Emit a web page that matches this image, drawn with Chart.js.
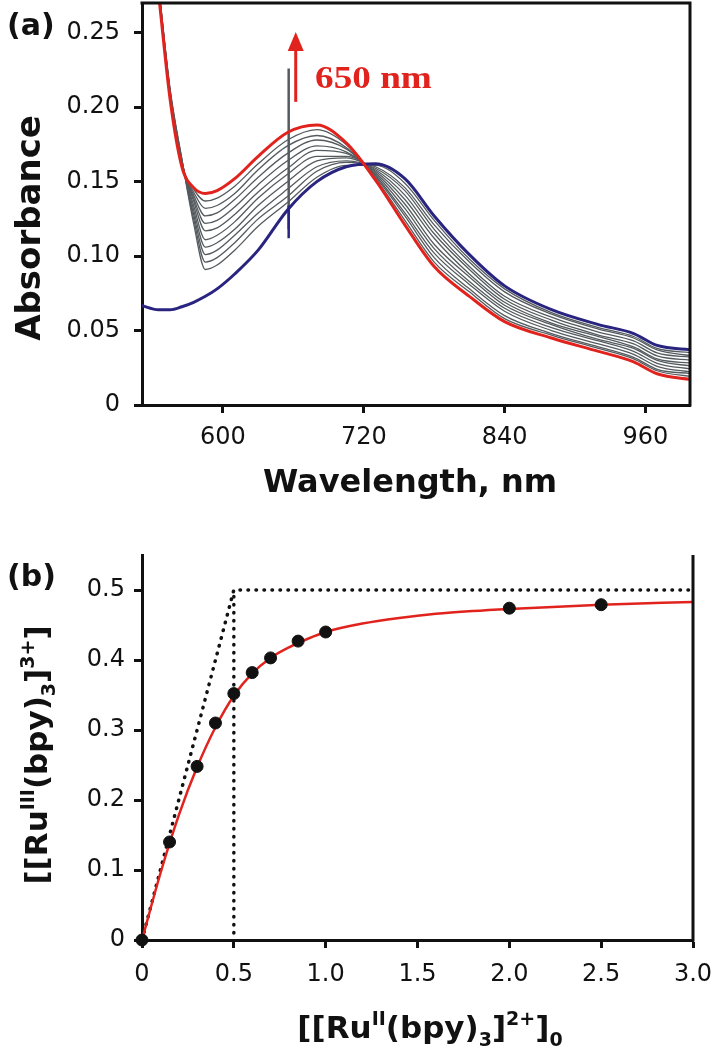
<!DOCTYPE html>
<html>
<head>
<meta charset="utf-8">
<script src="https://cdn.jsdelivr.net/npm/chart.js@4.4.0/dist/chart.umd.min.js"></script>
<style>
  html, body { margin: 0; padding: 0; background: #fff; }
  .panel { position: absolute; left: 0; width: 716px; }
</style>
</head>
<body>
<div class="panel" style="top:0;height:520px"><canvas id="spectra"></canvas></div>
<div class="panel" style="top:520px;height:530px"><canvas id="titration"></canvas></div>
<script>
// (a) absorption spectra, wavelength grid shared by every trace
const wavelengths = [530, 545, 555, 565, 575, 585, 595, 610, 630, 655, 680, 705, 730, 755, 780, 810, 840, 880, 920, 950, 970, 1000];
const blueInitial = [0.067, 0.064, 0.064, 0.066, 0.069, 0.073, 0.078, 0.088, 0.104, 0.131, 0.150, 0.160, 0.162, 0.152, 0.127, 0.101, 0.080, 0.064, 0.054, 0.048, 0.040, 0.037];
const redFinal = [0.38, 0.277, 0.205, 0.160, 0.146, 0.142, 0.144, 0.152, 0.167, 0.183, 0.188, 0.176, 0.151, 0.121, 0.093, 0.073, 0.056, 0.045, 0.036, 0.029, 0.021, 0.017];
const grayCurves = [
  [0.38, 0.282, 0.212, 0.165, 0.122, 0.091, 0.094, 0.104, 0.120, 0.136, 0.153, 0.161, 0.161, 0.149, 0.124, 0.098, 0.078, 0.062, 0.052, 0.046, 0.038, 0.035],
  [0.38, 0.282, 0.211, 0.165, 0.125, 0.096, 0.099, 0.109, 0.125, 0.140, 0.157, 0.163, 0.160, 0.146, 0.121, 0.096, 0.076, 0.061, 0.051, 0.045, 0.037, 0.033],
  [0.38, 0.281, 0.210, 0.164, 0.128, 0.101, 0.104, 0.114, 0.129, 0.145, 0.160, 0.164, 0.159, 0.144, 0.118, 0.093, 0.073, 0.059, 0.049, 0.043, 0.035, 0.032],
  [0.38, 0.281, 0.210, 0.164, 0.131, 0.106, 0.109, 0.118, 0.134, 0.150, 0.164, 0.166, 0.158, 0.141, 0.115, 0.091, 0.071, 0.057, 0.047, 0.041, 0.033, 0.030],
  [0.38, 0.280, 0.209, 0.163, 0.134, 0.111, 0.114, 0.123, 0.139, 0.155, 0.167, 0.167, 0.157, 0.138, 0.112, 0.088, 0.069, 0.055, 0.046, 0.039, 0.031, 0.028],
  [0.38, 0.280, 0.208, 0.163, 0.137, 0.117, 0.119, 0.128, 0.143, 0.159, 0.171, 0.169, 0.156, 0.135, 0.108, 0.086, 0.067, 0.054, 0.044, 0.038, 0.030, 0.026],
  [0.38, 0.279, 0.208, 0.162, 0.139, 0.122, 0.124, 0.133, 0.148, 0.164, 0.174, 0.170, 0.155, 0.132, 0.105, 0.083, 0.065, 0.052, 0.043, 0.036, 0.028, 0.024],
  [0.38, 0.279, 0.207, 0.162, 0.141, 0.127, 0.129, 0.138, 0.153, 0.169, 0.178, 0.172, 0.154, 0.129, 0.102, 0.081, 0.063, 0.050, 0.041, 0.034, 0.026, 0.022],
  [0.38, 0.278, 0.206, 0.161, 0.143, 0.132, 0.134, 0.142, 0.158, 0.174, 0.181, 0.173, 0.153, 0.127, 0.099, 0.078, 0.060, 0.048, 0.039, 0.032, 0.024, 0.021],
  [0.38, 0.278, 0.206, 0.161, 0.145, 0.137, 0.139, 0.147, 0.162, 0.178, 0.185, 0.175, 0.152, 0.124, 0.096, 0.076, 0.058, 0.047, 0.038, 0.031, 0.023, 0.019]
];
// lamp-change glitch seen on every trace
const spikeNm = 656;
const spikeGray = [0.226, 0.118];
const spikeBlue = [0.112, 0.134];
const nmTicks = [600, 720, 840, 960];
const absTicks = [0, 0.05, 0.10, 0.15, 0.20, 0.25];
const absTickLabels = ['0', '0.05', '0.10', '0.15', '0.20', '0.25'];

// (b) titration
const ratioX = [0, 0.15, 0.3, 0.4, 0.5, 0.6, 0.7, 0.85, 1.0, 2.0, 2.5];
const ratioY = [0, 0.14, 0.248, 0.31, 0.352, 0.382, 0.403, 0.427, 0.44, 0.474, 0.479];
const fitX = [0, 0.1, 0.2, 0.3, 0.4, 0.5, 0.6, 0.7, 0.8, 0.9, 1.0, 1.2, 1.4, 1.6, 1.8, 2.0, 2.5, 3.0];
const fitY = [0, 0.095, 0.178, 0.247, 0.304, 0.349, 0.381, 0.403, 0.418, 0.430, 0.440, 0.452, 0.460, 0.466, 0.470, 0.473, 0.479, 0.483];
const limitX = [0, 0.5, 3.0];
const limitY = [0, 0.5, 0.5];
const equivX = [0.5, 0.5];
const equivY = [0.01, 0.5];
const ruTicksX = [0, 0.5, 1.0, 1.5, 2.0, 2.5, 3.0];
const ruTickLabelsX = ['0', '0.5', '1.0', '1.5', '2.0', '2.5', '3.0'];
const ruTicksY = [0, 0.1, 0.2, 0.3, 0.4, 0.5];
const ruTickLabelsY = ['0', '0.1', '0.2', '0.3', '0.4', '0.5'];

const RED = '#e1231e';
const BLUE = '#29247f';
const GRAY = '#545a5e';
const INK = '#111111';
const SANS = '"DejaVu Sans", sans-serif';

function pts(xs, ys) {
  return xs.map((x, i) => ({ x: x, y: ys[i] }));
}

// axis with a fixed thickness so the plot area lands where the figure has it
function axis(min, max, values, labels, pad, size) {
  return {
    type: 'linear',
    min: min,
    max: max,
    border: { display: true, color: INK, width: 3 },
    grid: { drawOnChartArea: false, drawTicks: true, tickLength: 8, tickWidth: 3, tickColor: INK },
    ticks: {
      autoSkip: false,
      maxRotation: 0,
      padding: pad,
      color: INK,
      font: { family: SANS, size: 24 },
      callback: (v) => labels[values.indexOf(v)]
    },
    afterBuildTicks: (s) => { s.ticks = values.map(v => ({ value: v })); },
    afterFit: (s) => {
      if (s.isHorizontal()) { s.height = size; s.paddingLeft = 0; s.paddingRight = 0; }
      else { s.width = size; s.paddingTop = 0; s.paddingBottom = 0; }
    }
  };
}

function drawRich(ctx, parts, size, x, y) {
  const small = Math.round(size * 0.62);
  const fontOf = (p) => 'bold ' + (p[1] ? small : size) + 'px ' + SANS;
  let total = 0;
  parts.forEach(p => { ctx.font = fontOf(p); total += ctx.measureText(p[0]).width; });
  let cx = x - total / 2;
  parts.forEach(p => {
    ctx.font = fontOf(p);
    const dy = p[1] === 'sup' ? -size * 0.42 : (p[1] === 'sub' ? size * 0.25 : 0);
    ctx.fillText(p[0], cx, y + dy);
    cx += ctx.measureText(p[0]).width;
  });
}

const spectraDecor = {
  id: 'spectraDecor',
  afterDraw(chart) {
    const { ctx, chartArea: a, scales: { x, y } } = chart;
    ctx.save();
    ctx.strokeStyle = INK;
    ctx.lineWidth = 3;
    ctx.beginPath();
    ctx.moveTo(a.left - 1.5, a.top);
    ctx.lineTo(a.right, a.top);
    ctx.lineTo(a.right, a.bottom + 1.5);
    ctx.stroke();

    // red arrow + label
    const ax = x.getPixelForValue(662);
    const yFrom = y.getPixelForValue(0.2036);
    const yTip = y.getPixelForValue(0.2505);
    ctx.strokeStyle = RED;
    ctx.fillStyle = RED;
    ctx.lineWidth = 3;
    ctx.beginPath();
    ctx.moveTo(ax, yFrom);
    ctx.lineTo(ax, yTip + 15);
    ctx.stroke();
    ctx.beginPath();
    ctx.moveTo(ax, yTip);
    ctx.lineTo(ax - 8, yTip + 19);
    ctx.lineTo(ax + 8, yTip + 19);
    ctx.closePath();
    ctx.fill();
    ctx.save();
    ctx.translate(x.getPixelForValue(678.5), y.getPixelForValue(0.213));
    ctx.scale(1.2, 1);
    ctx.font = 'bold 31px "Liberation Serif", serif';
    ctx.textBaseline = 'alphabetic';
    ctx.fillText('650 nm', 0, 0);
    ctx.restore();

    ctx.fillStyle = INK;
    ctx.textBaseline = 'alphabetic';
    ctx.textAlign = 'left';
    ctx.font = 'bold 30px ' + SANS;
    ctx.fillText('(a)', 7, 35);
    ctx.textAlign = 'center';
    ctx.font = 'bold 32px ' + SANS;
    ctx.fillText('Wavelength, nm', 410, 492);
    ctx.save();
    ctx.translate(40, 228);
    ctx.rotate(-Math.PI / 2);
    ctx.font = 'bold 34px ' + SANS;
    ctx.fillText('Absorbance', 0, 0);
    ctx.restore();
    ctx.restore();
  }
};

const titrationDecor = {
  id: 'titrationDecor',
  afterDraw(chart) {
    const { ctx, chartArea: a } = chart;
    ctx.save();
    ctx.strokeStyle = INK;
    ctx.lineWidth = 3;
    ctx.beginPath();
    ctx.moveTo(a.right, a.top);
    ctx.lineTo(a.right, a.bottom + 1.5);
    ctx.stroke();

    ctx.fillStyle = INK;
    ctx.textBaseline = 'alphabetic';
    ctx.textAlign = 'left';
    ctx.font = 'bold 30px ' + SANS;
    ctx.fillText('(b)', 7, 66);
    drawRich(ctx, [['[[Ru', ''], ['II', 'sup'], ['(bpy)', ''], ['3', 'sub'], [']', ''], ['2+', 'sup'], [']', ''], ['0', 'sub']], 31, 430, 518);
    ctx.save();
    ctx.translate(47, 235);
    ctx.rotate(-Math.PI / 2);
    drawRich(ctx, [['[[Ru', ''], ['III', 'sup'], ['(bpy)', ''], ['3', 'sub'], [']', ''], ['3+', 'sup'], [']', '']], 31, 0, 0);
    ctx.restore();
    ctx.restore();
  }
};

const spectraSets = [
  { data: pts(wavelengths, redFinal), borderColor: RED, borderWidth: 3 },
  { data: pts(wavelengths, blueInitial), borderColor: BLUE, borderWidth: 3 },
  { data: pts([spikeNm, spikeNm], spikeBlue), borderColor: BLUE, borderWidth: 2.5 },
  { data: pts([spikeNm, spikeNm], spikeGray), borderColor: GRAY, borderWidth: 2.5 }
];
grayCurves.forEach(vals => {
  spectraSets.push({ data: pts(wavelengths, vals), borderColor: GRAY, borderWidth: 1.3 });
});
spectraSets.forEach(d => {
  d.showLine = true;
  d.pointRadius = 0;
  d.cubicInterpolationMode = 'monotone';
});

new Chart(document.getElementById('spectra'), {
  type: 'scatter',
  data: { datasets: spectraSets },
  options: {
    responsive: true,
    maintainAspectRatio: false,
    animation: false,
    layout: { padding: { left: 0, top: 3, right: 26, bottom: 0 } },
    plugins: { legend: { display: false }, tooltip: { enabled: false } },
    scales: {
      x: axis(531, 998, nmTicks, nmTicks.map(String), 10, 115),
      y: axis(0, 0.27, absTicks, absTickLabels, 14, 142)
    }
  },
  plugins: [spectraDecor]
});

const dotted = { borderColor: INK, borderWidth: 3.5, borderDash: [0.5, 7.5], borderCapStyle: 'round', pointRadius: 0, showLine: true };

new Chart(document.getElementById('titration'), {
  type: 'scatter',
  data: {
    datasets: [
      { data: pts(ratioX, ratioY), pointRadius: 6, pointBackgroundColor: INK, pointBorderColor: INK, pointBorderWidth: 1, clip: false },
      { data: pts(fitX, fitY), borderColor: RED, borderWidth: 2.5, pointRadius: 0, showLine: true, cubicInterpolationMode: 'monotone' },
      Object.assign({ data: pts(limitX, limitY) }, dotted),
      Object.assign({ data: pts(equivX, equivY) }, dotted)
    ]
  },
  options: {
    responsive: true,
    maintainAspectRatio: false,
    animation: false,
    layout: { padding: { left: 0, top: 35, right: 23, bottom: 0 } },
    plugins: { legend: { display: false }, tooltip: { enabled: false } },
    scales: {
      x: axis(0, 3, ruTicksX, ruTickLabelsX, 12, 110),
      y: axis(0, 0.55, ruTicksY, ruTickLabelsY, 9, 142)
    }
  },
  plugins: [titrationDecor]
});
</script>
</body>
</html>
